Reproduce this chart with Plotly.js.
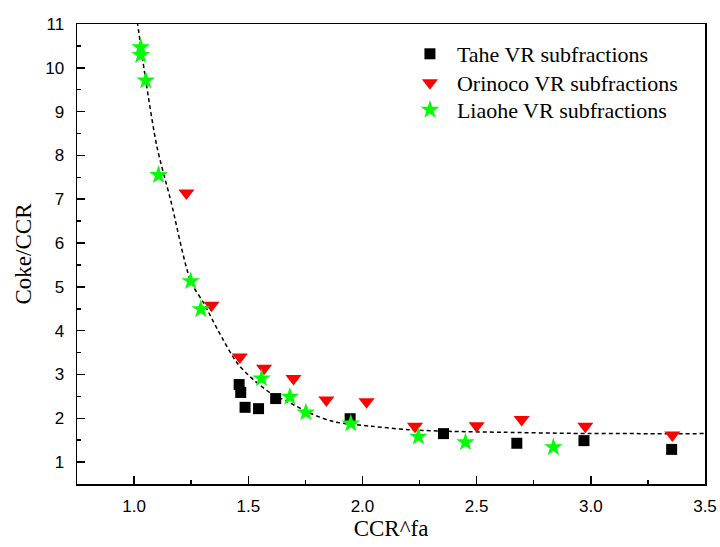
<!DOCTYPE html>
<html>
<head>
<meta charset="utf-8">
<script src="https://cdn.plot.ly/plotly-3.0.1.min.js"></script>
<style>html,body{margin:0;padding:0;background:#fff;}#chart{width:720px;height:547px;}</style>
</head>
<body>
<div id="chart"></div>
<script>
// Tahe VR subfractions
const taheX = [1.46, 1.467, 1.486, 1.545, 1.62, 1.946, 2.355, 2.676, 2.97, 3.354];
const taheY = [2.77, 2.59, 2.25, 2.22, 2.45, 1.99, 1.65, 1.43, 1.49, 1.29];
// Orinoco VR subfractions
const orinocoX = [1.229, 1.339, 1.463, 1.569, 1.698, 1.842, 2.018, 2.23, 2.50, 2.697, 2.976, 3.357];
const orinocoY = [7.14, 4.58, 3.40, 3.14, 2.91, 2.42, 2.38, 1.82, 1.83, 1.97, 1.82, 1.62];
// Liaohe VR subfractions
const liaoheX = [1.029, 1.029, 1.051, 1.107, 1.248, 1.292, 1.558, 1.682, 1.752, 1.949, 2.245, 2.451, 2.836];
const liaoheY = [10.47, 10.29, 9.71, 7.55, 5.13, 4.49, 2.91, 2.49, 2.13, 1.88, 1.58, 1.45, 1.34];
// Fitted curve
const fitX = [1.010, 1.016, 1.051, 1.10, 1.16, 1.248, 1.306, 1.365, 1.453, 1.525, 1.599, 1.672, 1.774, 1.876, 2.037, 2.20, 2.40, 2.62, 2.912, 3.20, 3.50];
const fitY = [11.2, 10.98, 9.72, 8.2, 6.98, 5.13, 4.62, 4.03, 3.25, 2.87, 2.57, 2.38, 2.11, 1.92, 1.82, 1.74, 1.70, 1.68, 1.656, 1.65, 1.65];

const legendNames = ["Tahe VR subfractions", "Orinoco VR subfractions", "Liaohe VR subfractions"];

const traces = [
  {x: fitX, y: fitY, mode: 'lines', type: 'scatter', showlegend: false, hoverinfo: 'skip',
   line: {color: '#000', width: 1.5, dash: '4px,3px', shape: 'spline', smoothing: 0.8}},
  {x: taheX, y: taheY, mode: 'markers', type: 'scatter', name: legendNames[0], legend: 'legend',
   marker: {symbol: 'square', size: 11, color: '#000000'}},
  {x: orinocoX, y: orinocoY, mode: 'markers', type: 'scatter', name: legendNames[1], legend: 'legend2',
   marker: {symbol: 'triangle-down', size: 14, color: '#ff0000'}},
  {x: liaoheX, y: liaoheY, mode: 'markers', type: 'scatter', name: legendNames[2], legend: 'legend3',
   marker: {symbol: 'star', size: 14, color: '#00ff00'}}
];

const tickFont = {family: 'Liberation Sans, Arial, sans-serif', size: 17, color: '#000'};
const serif = 'Liberation Serif, Times New Roman, serif';
function leg(yp) {
  return {x: 0.519, y: yp, xanchor: 'left', yanchor: 'middle',
          font: {family: serif, size: 22, color: '#000'},
          bgcolor: 'rgba(0,0,0,0)', borderwidth: 0, itemwidth: 44};
}

const layout = {
  width: 720, height: 547,
  margin: {l: 77, r: 15, t: 24, b: 63},
  paper_bgcolor: '#fff', plot_bgcolor: '#fff',
  showlegend: true,
  legend: leg(0.9348),
  legend2: leg(0.8717),
  legend3: leg(0.813),
  xaxis: {
    range: [0.75, 3.5], tick0: 0, dtick: 0.5, tickformat: '.1f',
    showgrid: false, zeroline: false,
    showline: true, linecolor: '#000', linewidth: 1.5, mirror: true,
    ticks: 'inside', ticklen: 8, tickwidth: 1.5, tickcolor: '#000',
    minor: {ticks: 'inside', ticklen: 4, dtick: 0.25, tick0: 0, tickwidth: 1.5, tickcolor: '#000', showgrid: false},
    tickfont: tickFont, ticklabelstandoff: 6,
    title: {text: 'CCR^fa', font: {family: serif, size: 23, color: '#000'}, standoff: 4}
  },
  yaxis: {
    range: [0.5, 11], tick0: 0, dtick: 1,
    showgrid: false, zeroline: false,
    showline: true, linecolor: '#000', linewidth: 1.5, mirror: true,
    ticks: 'inside', ticklen: 8, tickwidth: 1.5, tickcolor: '#000',
    minor: {ticks: 'inside', ticklen: 4, dtick: 0.5, tick0: 0, tickwidth: 1.5, tickcolor: '#000', showgrid: false},
    tickfont: tickFont, ticklabelstandoff: 8,
    title: {text: 'Coke/CCR', font: {family: serif, size: 23, color: '#000'}, standoff: 7}
  }
};

Plotly.newPlot('chart', traces, layout, {staticPlot: true, displayModeBar: false});
</script>
</body>
</html>
